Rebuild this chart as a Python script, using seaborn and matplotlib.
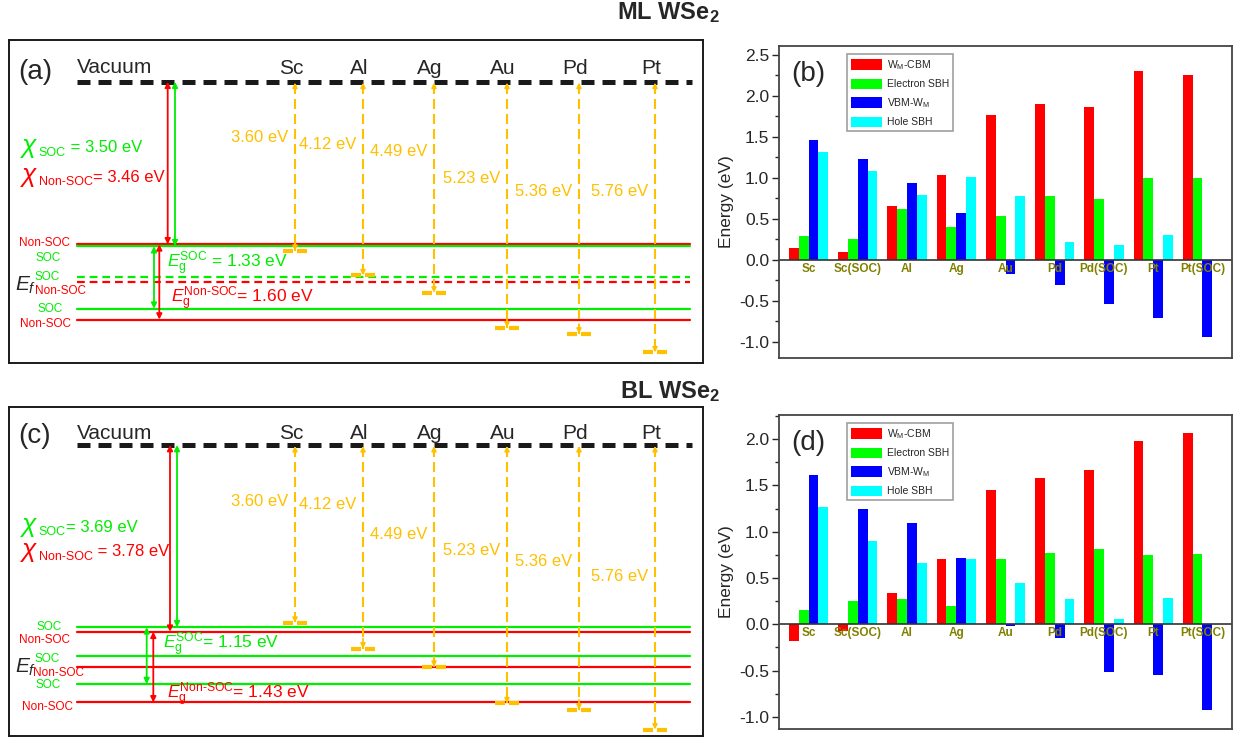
import numpy as np
import pandas as pd
import matplotlib
matplotlib.use('Agg')
import matplotlib.pyplot as plt
import seaborn as sns
from matplotlib.ticker import MultipleLocator

sns.set_theme(style='ticks')
plt.rcParams['font.family'] = ['Liberation Sans', 'DejaVu Sans']
plt.rcParams['mathtext.fontset'] = 'custom'
plt.rcParams['mathtext.rm'] = 'Liberation Sans'
plt.rcParams['mathtext.it'] = 'Liberation Sans:italic'
plt.rcParams['mathtext.bf'] = 'Liberation Sans:bold'
plt.rcParams['axes.unicode_minus'] = False

RED = '#FF0000'
GREEN = '#00EE00'
BLUE = '#0000FF'
CYAN = '#00FFFF'
ORANGE = '#FFC000'
OLIVE = '#808000'

# band alignment data (eV)
metals = ['Sc', 'Al', 'Ag', 'Au', 'Pd', 'Pt']
work_func = [3.60, 4.12, 4.49, 5.23, 5.36, 5.76]
ml_chi_soc, ml_chi_non = 3.50, 3.46
ml_eg_soc, ml_eg_non = 1.33, 1.60
bl_chi_soc, bl_chi_non = 3.69, 3.78
bl_eg_soc, bl_eg_non = 1.15, 1.43

# bar chart data (eV)
contacts = ['Sc', 'Sc(SOC)', 'Al', 'Ag', 'Au', 'Pd', 'Pd(SOC)', 'Pt', 'Pt(SOC)']
series = [r'W$_{\rm M}$-CBM', 'Electron SBH', r'VBM-W$_{\rm M}$', 'Hole SBH']
ml_wm_cbm = [0.14, 0.10, 0.66, 1.03, 1.77, 1.90, 1.86, 2.30, 2.26]
ml_e_sbh = [0.29, 0.25, 0.62, 0.40, 0.53, 0.78, 0.74, 1.00, 1.00]
ml_vbm_wm = [1.46, 1.23, 0.94, 0.57, -0.18, -0.31, -0.54, -0.71, -0.94]
ml_h_sbh = [1.31, 1.08, 0.79, 1.01, 0.78, 0.22, 0.18, 0.30, 0.0]
bl_wm_cbm = [-0.18, -0.07, 0.34, 0.71, 1.45, 1.58, 1.67, 1.98, 2.07]
bl_e_sbh = [0.16, 0.25, 0.27, 0.20, 0.70, 0.77, 0.81, 0.75, 0.76]
bl_vbm_wm = [1.61, 1.24, 1.09, 0.72, -0.02, -0.15, -0.52, -0.55, -0.92]
bl_h_sbh = [1.27, 0.90, 0.66, 0.70, 0.45, 0.27, 0.06, 0.28, 0.0]

W, H = 1236, 738
fig = plt.figure(figsize=(W / 100, H / 100), dpi=100)
ax_a = fig.add_axes([9 / W, 1 - 363 / H, 694 / W, 323 / H])
ax_c = fig.add_axes([9 / W, 1 - 736 / H, 694 / W, 329 / H])
ax_b = fig.add_axes([779 / W, 1 - 358 / H, 453 / W, 312 / H])
ax_d = fig.add_axes([779 / W, 1 - 729 / H, 453 / W, 314 / H])

metal_x = [295, 363, 434, 507, 579, 655]
X0, X1 = 77, 690


def chi_text(ax, x, y, sub, rest, color):
    t1 = ax.text(x, y, r'$\chi$', color=color, fontsize=19, va='center', ha='left')
    t2 = ax.annotate(sub, xy=(1.0, 0.3), xycoords=t1, fontsize=9, va='center',
                     ha='left', color=color)
    ax.annotate(rest, xy=(1.0, 0.5), xycoords=(t2, t1), fontsize=12, va='center',
                ha='left', color=color)


def arrow2(ax, x, y1, y2, color):
    ax.annotate('', xy=(x, y2), xytext=(x, y1),
                arrowprops=dict(arrowstyle='<|-|>', color=color, lw=1.3,
                                mutation_scale=8, shrinkA=0, shrinkB=0))


def draw_diagram(ax, chi_soc, chi_non, eg_soc, eg_non, ylim, lay):
    cbm_s, cbm_n = -chi_soc, -chi_non
    vbm_s, vbm_n = -(chi_soc + eg_soc), -(chi_non + eg_non)
    ef_s, ef_n = (cbm_s + vbm_s) / 2, (cbm_n + vbm_n) / 2

    ax.set_xlim(9, 703)
    ax.set_ylim(ylim)
    ax.set_xticks([])
    ax.set_yticks([])
    for s in ax.spines.values():
        s.set_linewidth(1.4)
        s.set_color('#1a1a1a')

    # band edges
    for y, c in [(cbm_n, RED), (cbm_s, GREEN), (vbm_s, GREEN), (vbm_n, RED)]:
        ax.plot([X0, X1], [y, y], color=c, lw=1.6)
    ls = lay['ef_ls']
    ax.plot([X0, X1], [ef_s, ef_s], color=GREEN, lw=1.6, ls=ls)
    ax.plot([X0, X1], [ef_n, ef_n], color=RED, lw=1.6, ls=ls)

    # vacuum
    ax.plot([X0, X1 + 2], [0, 0], color='k', lw=3.6, ls=(0, (2.6, 1.6)))
    ax.text(X0, lay['vac_y'], 'Vacuum', fontsize=15, ha='left', va='baseline')
    ax.text(18, lay['tag_y'], lay['tag'], fontsize=20, ha='left', va='center')

    # metal work functions
    for x, m, wf, ty in zip(metal_x, metals, work_func, lay['wf_y']):
        ax.plot([x, x], [-0.05, -wf], color=ORANGE, lw=1.5, ls=(0, (4.8, 2.4)))
        ax.annotate('', xy=(x, -0.02), xytext=(x, -0.2),
                    arrowprops=dict(arrowstyle='-|>', color=ORANGE, lw=1.2,
                                    mutation_scale=7, shrinkA=0, shrinkB=0))
        ax.annotate('', xy=(x, -wf), xytext=(x, -wf + 0.2),
                    arrowprops=dict(arrowstyle='-|>', color=ORANGE, lw=1.2,
                                    mutation_scale=7, shrinkA=0, shrinkB=0))
        ax.hlines([-wf, -wf], [x - 12, x + 2], [x - 2, x + 12], color=ORANGE, lw=3)
        ax.text(x - 4, lay['metal_y'], m, fontsize=15, ha='center', va='baseline')
        ax.text(x - 7, ty, f'{wf:.2f} eV', fontsize=12, color=ORANGE,
                ha='right', va='center_baseline')

    # electron affinity and gap arrows
    xr, xg = lay['chi_x']
    arrow2(ax, xr, 0, cbm_n, RED)
    arrow2(ax, xg, 0, cbm_s, GREEN)
    xg2, xr2 = lay['eg_x']
    arrow2(ax, xg2, cbm_s, vbm_s, GREEN)
    arrow2(ax, xr2, cbm_n, vbm_n, RED)

    chi_text(ax, 20, lay['chi_y'][0], 'SOC', lay['chi_txt'][0], GREEN)
    chi_text(ax, 20, lay['chi_y'][1], 'Non-SOC', lay['chi_txt'][1], RED)
    ax.text(lay['eg_tx'][0], lay['eg_y'][0],
            r'$E_{\rm g}^{\text{SOC}}$' + lay['eg_txt'][0],
            fontsize=12.5, color=GREEN, ha='left', va='center')
    ax.text(lay['eg_tx'][1], lay['eg_y'][1],
            r'$E_{\rm g}^{\text{Non-SOC}}$' + lay['eg_txt'][1],
            fontsize=12.5, color=RED, ha='left', va='center')

    # side labels
    for txt, c, x, y, ha in lay['side']:
        ax.text(x, y, txt, fontsize=8.5, color=c, ha=ha, va='center_baseline')
    ax.text(15, lay['ef_y'], r'$E_f$', fontsize=15, ha='left', va='center')


def px2e(py, vac, scale):
    return -(py - vac) / scale


# layout for (a): vacuum at 81.7 px, 47 px/eV
va_, sa = 81.7, 47.0
lay_a = dict(
    ef_ls=(0, (3.5, 2.2)), tag='(a)',
    vac_y=px2e(72.7, va_, sa), metal_y=px2e(74.5, va_, sa), tag_y=px2e(72, va_, sa),
    wf_y=[px2e(p, va_, sa) for p in [136, 143, 150, 177, 190, 190]],
    chi_x=(167.7, 175), eg_x=(154, 159.3),
    chi_y=(px2e(148, va_, sa), px2e(177, va_, sa)),
    chi_txt=(' = 3.50 eV', '= 3.46 eV'),
    eg_txt=(' = 1.33 eV', '= 1.60 eV'),
    eg_tx=(167, 171), eg_y=(px2e(264, va_, sa), px2e(299, va_, sa)),
    ef_y=px2e(285, va_, sa),
    side=[('Non-SOC', RED, 70, px2e(241.5, va_, sa), 'right'),
          ('SOC', GREEN, 48, px2e(256, va_, sa), 'center'),
          ('SOC', GREEN, 47, px2e(275.5, va_, sa), 'center'),
          ('Non-SOC', RED, 35, px2e(289, va_, sa), 'left'),
          ('SOC', GREEN, 50, px2e(307.5, va_, sa), 'center'),
          ('Non-SOC', RED, 71, px2e(322.5, va_, sa), 'right')],
)
draw_diagram(ax_a, ml_chi_soc, ml_chi_non, ml_eg_soc, ml_eg_non,
             (px2e(363, va_, sa), px2e(40, va_, sa)), lay_a)

# layout for (c): vacuum at 445 px, 49.4 px/eV
vc, sc = 445.0, 49.4
lay_c = dict(
    ef_ls='-', tag='(c)',
    vac_y=px2e(439.3, vc, sc), metal_y=px2e(439.3, vc, sc), tag_y=px2e(436, vc, sc),
    wf_y=[px2e(p, vc, sc) for p in [500, 503, 533, 549, 560, 575]],
    chi_x=(170, 177), eg_x=(146.7, 153.3),
    chi_y=(px2e(527, vc, sc), px2e(552, vc, sc)),
    chi_txt=('= 3.69 eV', ' = 3.78 eV'),
    eg_txt=('= 1.15 eV', '= 1.43 eV'),
    eg_tx=(163, 167), eg_y=(px2e(645, vc, sc), px2e(695, vc, sc)),
    ef_y=px2e(667, vc, sc),
    side=[('SOC', GREEN, 49, px2e(625, vc, sc), 'center'),
          ('Non-SOC', RED, 70, px2e(638.5, vc, sc), 'right'),
          ('SOC', GREEN, 47, px2e(657.5, vc, sc), 'center'),
          ('Non-SOC', RED, 33, px2e(672, vc, sc), 'left'),
          ('SOC', GREEN, 48, px2e(684, vc, sc), 'center'),
          ('Non-SOC', RED, 73, px2e(706, vc, sc), 'right')],
)
draw_diagram(ax_c, bl_chi_soc, bl_chi_non, bl_eg_soc, bl_eg_non,
             (px2e(736, vc, sc), px2e(407, vc, sc)), lay_c)


def draw_bars(ax, vals, ylim, tag):
    df = pd.DataFrame({'contact': contacts * 4,
                       'series': np.repeat(series, len(contacts)),
                       'energy': np.concatenate(vals)})
    sns.barplot(data=df, x='contact', y='energy', hue='series', ax=ax,
                palette=[RED, '#00FF00', BLUE, CYAN], saturation=1, width=0.8,
                errorbar=None, linewidth=0, order=contacts, hue_order=series)
    ax.set_xlim(-0.6, 8.6)
    ax.set_ylim(ylim)
    ax.axhline(0, color='#333333', lw=1.2)
    ax.set_xticks([])
    ax.set_xlabel('')
    ax.set_ylabel('Energy (eV)', fontsize=12.5, labelpad=4)
    ax.yaxis.set_major_locator(MultipleLocator(0.5))
    ax.yaxis.set_minor_locator(MultipleLocator(0.25))
    ax.tick_params(axis='y', which='major', length=5, width=1, labelsize=12.5, pad=2)
    ax.tick_params(axis='y', which='minor', length=3, width=1)
    for s in ax.spines.values():
        s.set_linewidth(1.3)
        s.set_color('#444444')
        s.set_visible(True)
    for i, c in enumerate(contacts):
        ax.annotate(c, xy=(i, 0), xytext=(0, -2), textcoords='offset points',
                    fontsize=8.5, fontweight='bold', color=OLIVE,
                    ha='center', va='top')
    ax.text(0.027, 0.91, tag, transform=ax.transAxes, fontsize=20,
            ha='left', va='center')
    handles, labels = ax.get_legend_handles_labels()
    leg = ax.legend(handles, labels, loc='upper left', bbox_to_anchor=(0.15, 0.975),
                    fontsize=7.5, frameon=True, fancybox=False, edgecolor='#888888',
                    handlelength=3.0, handleheight=1.15, labelspacing=0.65,
                    borderpad=0.4, handletextpad=0.4, borderaxespad=0)
    leg.get_frame().set_linewidth(1.2)


draw_bars(ax_b, [ml_wm_cbm, ml_e_sbh, ml_vbm_wm, ml_h_sbh], (-1.2, 2.61), '(b)')
draw_bars(ax_d, [bl_wm_cbm, bl_e_sbh, bl_vbm_wm, bl_h_sbh], (-1.13, 2.26), '(d)')

fig.text(668 / W, 1 - 13 / H, r'ML WSe$_{\bf 2}$', fontsize=17, fontweight='bold',
         ha='center', va='center')
fig.text(670 / W, 1 - 392 / H, r'BL WSe$_{\bf 2}$', fontsize=17, fontweight='bold',
         ha='center', va='center')

fig.savefig('out.png', dpi=100)
